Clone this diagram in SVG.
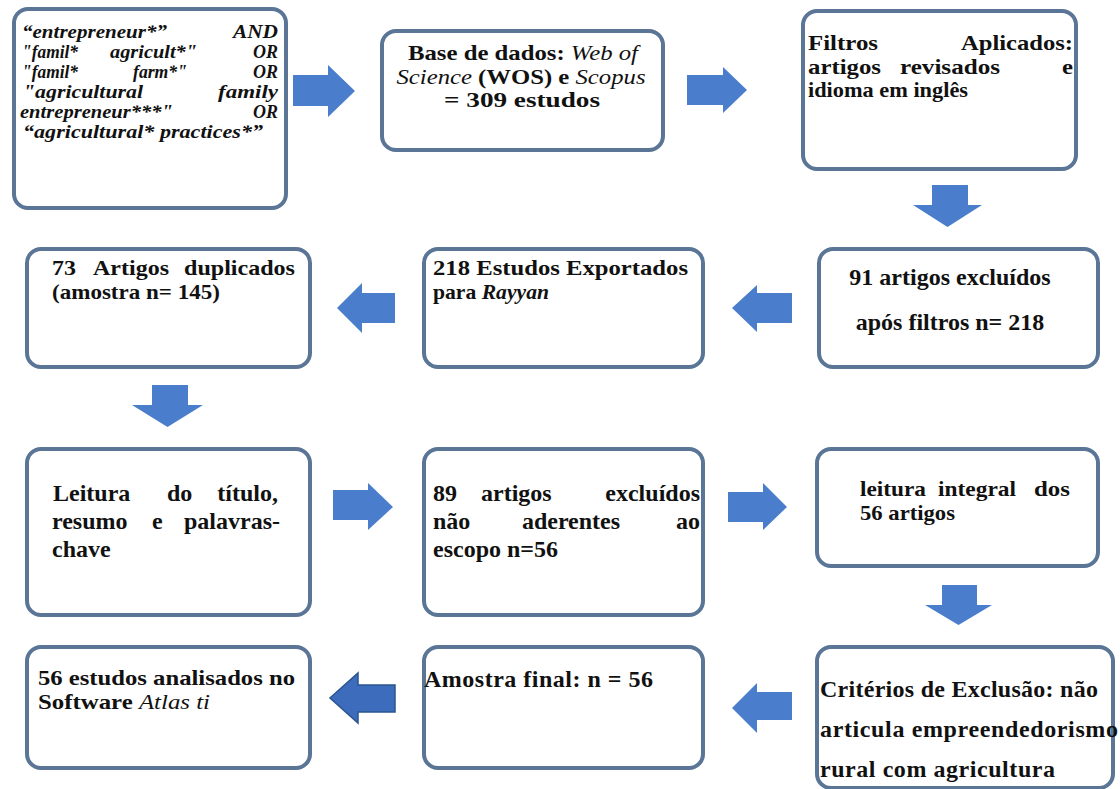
<svg xmlns="http://www.w3.org/2000/svg" width="1120" height="789" viewBox="0 0 1120 789">
<style>
.box{fill:#fff;stroke:#5a7596;stroke-width:4}
.arr{fill:#4a7ecd}
.arr2{fill:#3d6cbd;stroke:#2b5590;stroke-width:1.5}
.t text{font-family:"Liberation Serif","Times New Roman",serif;font-weight:bold;font-size:21px;fill:#111}
.t .L{font-size:24px}
.t .q{font-style:italic;font-size:18px}
.t .i{font-style:italic;font-weight:normal}
.t .bi{font-style:italic}
.t .m{text-anchor:middle}
.t .e{text-anchor:end}
</style>
<rect width="1120" height="789" fill="#fff"/>
<g id="connectors">
<polygon class="arr" points="293,75 328,75 328,65 355,91 328,117 328,106 293,106"/>
<polygon class="arr" points="687,75 723,75 723,67 747,90 723,113 723,105 687,105"/>
<polygon class="arr" points="932,185 968,185 968,205 982,205 947.5,227 913,205 932,205"/>
<polygon class="arr" points="395,293 362,293 362,283 337,308 362,333 362,323 395,323"/>
<polygon class="arr" points="792,293 757,293 757,285 732,308 757,332 757,323 792,323"/>
<polygon class="arr" points="152,385 188,385 188,405 203,405 167.5,427 132,405 152,405"/>
<polygon class="arr" points="333,490 368,490 368,483 393,507 368,530 368,520 333,520"/>
<polygon class="arr" points="728,492 763,492 763,483 787,507 763,530 763,522 728,522"/>
<polygon class="arr" points="942,585 977,585 977,605 992,605 958.5,625 925,605 942,605"/>
<polygon class="arr2" points="395,685 358,685 358,673 330,698 358,723 358,712 395,712"/>
<polygon class="arr" points="792,692 757,692 757,683 732,708 757,733 757,720 792,720"/>
</g>
<g class="t">
<g id="node-query">
<rect class="box" x="14" y="9" width="272" height="199" rx="14"/>
<text class="q" x="22" y="38" textLength="145" lengthAdjust="spacingAndGlyphs">“entrepreneur*”</text><text class="q e" x="278" y="38" textLength="45" lengthAdjust="spacingAndGlyphs">AND</text>
<text class="q" x="22" y="58" textLength="56" lengthAdjust="spacingAndGlyphs">"famil*</text><text class="q" x="110" y="58" textLength="87" lengthAdjust="spacingAndGlyphs">agricult*"</text><text class="q e" x="278" y="58" textLength="25" lengthAdjust="spacingAndGlyphs">OR</text>
<text class="q" x="22" y="78" textLength="56" lengthAdjust="spacingAndGlyphs">"famil*</text><text class="q" x="133" y="78" textLength="54" lengthAdjust="spacingAndGlyphs">farm*"</text><text class="q e" x="278" y="78" textLength="25" lengthAdjust="spacingAndGlyphs">OR</text>
<text class="q" x="23" y="98" textLength="120" lengthAdjust="spacingAndGlyphs">"agricultural</text><text class="q e" x="278" y="98" textLength="60" lengthAdjust="spacingAndGlyphs">family</text>
<text class="q" x="20" y="118" textLength="153" lengthAdjust="spacingAndGlyphs">entrepreneur***"</text><text class="q e" x="278" y="118" textLength="25" lengthAdjust="spacingAndGlyphs">OR</text>
<text class="q" x="23" y="138" textLength="240" lengthAdjust="spacingAndGlyphs">“agricultural* practices*”</text>
</g>
<g id="node-base">
<rect class="box" x="382" y="31" width="281" height="119" rx="14"/>
<text class="m" x="523" y="60" textLength="230" lengthAdjust="spacingAndGlyphs">Base de dados: <tspan class="i">Web of</tspan></text>
<text class="m" x="521" y="83.5" textLength="249" lengthAdjust="spacingAndGlyphs"><tspan class="i">Science</tspan> (WOS) e <tspan class="i">Scopus</tspan></text>
<text class="m" x="522" y="107" textLength="156" lengthAdjust="spacingAndGlyphs">= 309 estudos</text>
</g>
<g id="node-filtros">
<rect class="box" x="803" y="11" width="273" height="158" rx="14"/>
<text x="808" y="50" textLength="70" lengthAdjust="spacingAndGlyphs">Filtros</text><text class="e" x="1073" y="50" textLength="112" lengthAdjust="spacingAndGlyphs">Aplicados:</text>
<text x="808" y="73.5" textLength="73" lengthAdjust="spacingAndGlyphs">artigos</text><text x="900" y="73.5" textLength="100" lengthAdjust="spacingAndGlyphs">revisados</text><text class="e" x="1073" y="73.5" textLength="11" lengthAdjust="spacingAndGlyphs">e</text>
<text x="808" y="97" textLength="160" lengthAdjust="spacingAndGlyphs">idioma em inglês</text>
</g>
<g id="node-excluidos91">
<rect class="box" x="819" y="249" width="279" height="118" rx="14"/>
<text class="m L" x="950" y="285">91 artigos excluídos</text>
<text class="m L" x="950" y="330">após filtros n= 218</text>
</g>
<g id="node-exportados">
<rect class="box" x="424" y="249" width="279" height="118" rx="14"/>
<text x="433" y="275" textLength="255" lengthAdjust="spacingAndGlyphs">218 Estudos Exportados</text>
<text x="433" y="298.5" textLength="116" lengthAdjust="spacingAndGlyphs">para <tspan class="bi">Rayyan</tspan></text>
</g>
<g id="node-duplicados">
<rect class="box" x="27" y="249" width="283" height="118" rx="14"/>
<text x="52" y="275" textLength="24" lengthAdjust="spacingAndGlyphs">73</text><text x="93" y="275" textLength="76" lengthAdjust="spacingAndGlyphs">Artigos</text><text class="e" x="295" y="275" textLength="111" lengthAdjust="spacingAndGlyphs">duplicados</text>
<text x="52" y="298.5" textLength="168" lengthAdjust="spacingAndGlyphs">(amostra n= 145)</text>
</g>
<g id="node-leitura-titulo">
<rect class="box" x="27" y="449" width="283" height="166" rx="14"/>
<text class="L" x="53" y="501">Leitura</text><text class="L" x="167" y="501">do</text><text class="L e" x="278" y="501">título,</text>
<text class="L" x="52" y="529">resumo</text><text class="L" x="152" y="529">e</text><text class="L e" x="280" y="529">palavras-</text>
<text class="L" x="52" y="557">chave</text>
</g>
<g id="node-excluidos89">
<rect class="box" x="424" y="449" width="279" height="166" rx="14"/>
<text class="L" x="433" y="501">89</text><text class="L" x="481" y="501">artigos</text><text class="L e" x="700" y="501">excluídos</text>
<text class="L" x="433" y="529">não</text><text class="L m" x="571" y="529">aderentes</text><text class="L e" x="700" y="529">ao</text>
<text class="L" x="433" y="557">escopo n=56</text>
</g>
<g id="node-leitura-integral">
<rect class="box" x="817" y="449" width="281" height="117" rx="14"/>
<text x="860" y="496" textLength="66" lengthAdjust="spacingAndGlyphs">leitura</text><text x="938" y="496" textLength="78" lengthAdjust="spacingAndGlyphs">integral</text><text class="e" x="1070" y="496" textLength="36" lengthAdjust="spacingAndGlyphs">dos</text>
<text x="860" y="519.5" textLength="95" lengthAdjust="spacingAndGlyphs">56 artigos</text>
</g>
<g id="node-criterios">
<rect class="box" x="817" y="647" width="296" height="141" rx="14"/>
<text class="L" x="820" y="697" textLength="278" lengthAdjust="spacing">Critérios de Exclusão: não</text>
<text class="L" x="820" y="737" textLength="298" lengthAdjust="spacing">articula empreendedorismo</text>
<text class="L" x="820" y="777" textLength="235" lengthAdjust="spacing">rural com agricultura</text>
</g>
<g id="node-amostra">
<rect class="box" x="424" y="647" width="279" height="121" rx="14"/>
<text class="L" x="424" y="687" textLength="229" lengthAdjust="spacing">Amostra final: n = 56</text>
</g>
<g id="node-atlas">
<rect class="box" x="27" y="647" width="283" height="121" rx="14"/>
<text x="38" y="685" textLength="257" lengthAdjust="spacingAndGlyphs">56 estudos analisados no</text>
<text x="38" y="708.5" textLength="172" lengthAdjust="spacingAndGlyphs">Software <tspan class="i">Atlas ti</tspan></text>
</g>
</g>
</svg>
